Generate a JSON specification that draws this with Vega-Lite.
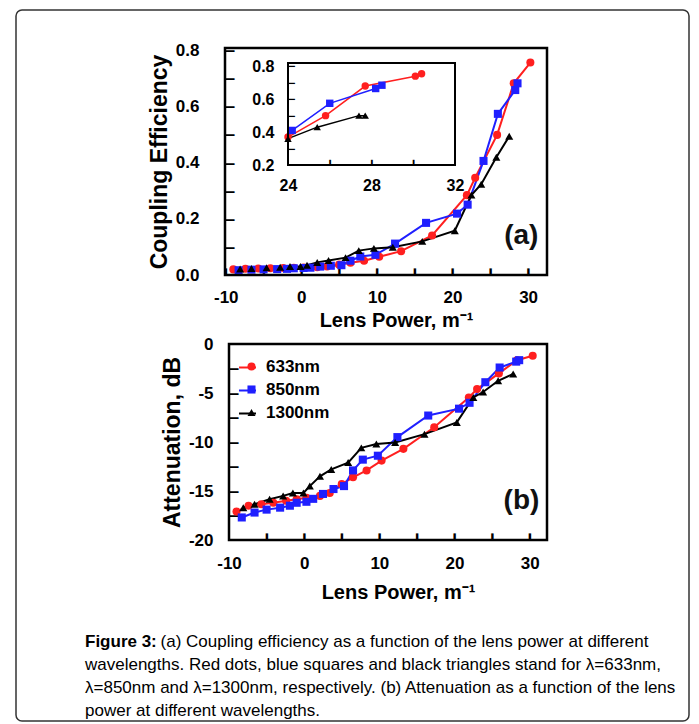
{
  "$schema": "https://vega.github.io/schema/vega-lite/v6.json",
  "width": 673,
  "height": 711,
  "autosize": "none",
  "padding": {"left": 16, "top": 10, "right": 10, "bottom": 3},
  "background": "white",
  "config": {
    "view": {"stroke": "#333333", "strokeWidth": 1.5, "cornerRadius": 6},
    "font": "Liberation Sans",
    "axis": {
      "labelFont": "Liberation Sans", "titleFont": "Liberation Sans",
      "labelColor": "#000", "titleColor": "#000",
      "labelFontWeight": "bold", "titleFontWeight": "bold",
      "grid": false, "domain": false, "ticks": false,
      "labelFlush": false, "labelOverlap": false
    },
    "legend": {"labelFont": "Liberation Sans"}
  },
  "title": {
    "text": "Figure 3:",
    "subtitle": [
      "\u200b\u00a0\u00a0\u00a0\u00a0\u00a0\u00a0\u00a0\u00a0\u00a0\u00a0\u00a0\u00a0\u00a0\u00a0\u00a0\u00a0(a) Coupling efficiency as a function of the lens power at different",
      "wavelengths. Red dots, blue squares and black triangles stand for λ=633nm,",
      "λ=850nm and λ=1300nm, respectively. (b) Attenuation as a function of the lens",
      "power at different wavelengths."
    ],
    "orient": "bottom", "anchor": "start", "frame": "group",
    "dx": 69, "offset": -87,
    "font": "Liberation Sans", "fontSize": 17, "fontWeight": "bold", "color": "#000",
    "subtitleFont": "Liberation Sans", "subtitleFontSize": 17, "subtitleFontWeight": "normal",
    "subtitleColor": "#000", "subtitleLineHeight": 23, "subtitlePadding": -17
  },
  "datasets": {
    "ce": [
      {"wl": "633nm", "lp": -9.0, "ce": 0.020}, {"wl": "633nm", "lp": -7.4, "ce": 0.022},
      {"wl": "633nm", "lp": -5.7, "ce": 0.023}, {"wl": "633nm", "lp": -4.1, "ce": 0.024},
      {"wl": "633nm", "lp": -2.4, "ce": 0.025}, {"wl": "633nm", "lp": -1.0, "ce": 0.026},
      {"wl": "633nm", "lp": 0.3, "ce": 0.027}, {"wl": "633nm", "lp": 2.1, "ce": 0.028},
      {"wl": "633nm", "lp": 3.4, "ce": 0.030}, {"wl": "633nm", "lp": 5.0, "ce": 0.037},
      {"wl": "633nm", "lp": 6.5, "ce": 0.044}, {"wl": "633nm", "lp": 8.3, "ce": 0.051},
      {"wl": "633nm", "lp": 10.3, "ce": 0.065}, {"wl": "633nm", "lp": 13.2, "ce": 0.085},
      {"wl": "633nm", "lp": 17.3, "ce": 0.141}, {"wl": "633nm", "lp": 21.9, "ce": 0.285},
      {"wl": "633nm", "lp": 23.0, "ce": 0.347}, {"wl": "633nm", "lp": 25.9, "ce": 0.50},
      {"wl": "633nm", "lp": 28.1, "ce": 0.684}, {"wl": "633nm", "lp": 30.3, "ce": 0.758},
      {"wl": "850nm", "lp": -8.3, "ce": 0.017}, {"wl": "850nm", "lp": -6.6, "ce": 0.019},
      {"wl": "850nm", "lp": -5.0, "ce": 0.020}, {"wl": "850nm", "lp": -3.2, "ce": 0.021},
      {"wl": "850nm", "lp": -1.9, "ce": 0.022}, {"wl": "850nm", "lp": -1.0, "ce": 0.024},
      {"wl": "850nm", "lp": 0.3, "ce": 0.025}, {"wl": "850nm", "lp": 1.2, "ce": 0.026},
      {"wl": "850nm", "lp": 2.5, "ce": 0.030}, {"wl": "850nm", "lp": 3.9, "ce": 0.033},
      {"wl": "850nm", "lp": 5.3, "ce": 0.035}, {"wl": "850nm", "lp": 6.5, "ce": 0.051},
      {"wl": "850nm", "lp": 7.8, "ce": 0.066}, {"wl": "850nm", "lp": 9.8, "ce": 0.072},
      {"wl": "850nm", "lp": 12.4, "ce": 0.112}, {"wl": "850nm", "lp": 16.5, "ce": 0.186},
      {"wl": "850nm", "lp": 20.6, "ce": 0.219}, {"wl": "850nm", "lp": 22.0, "ce": 0.251},
      {"wl": "850nm", "lp": 24.1, "ce": 0.407}, {"wl": "850nm", "lp": 26.0, "ce": 0.575},
      {"wl": "850nm", "lp": 28.3, "ce": 0.66}, {"wl": "850nm", "lp": 28.6, "ce": 0.684},
      {"wl": "1300nm", "lp": -8.1, "ce": 0.021}, {"wl": "1300nm", "lp": -6.6, "ce": 0.023},
      {"wl": "1300nm", "lp": -4.6, "ce": 0.026}, {"wl": "1300nm", "lp": -2.8, "ce": 0.028},
      {"wl": "1300nm", "lp": -1.5, "ce": 0.030}, {"wl": "1300nm", "lp": -0.1, "ce": 0.030},
      {"wl": "1300nm", "lp": 0.75, "ce": 0.035}, {"wl": "1300nm", "lp": 2.1, "ce": 0.045},
      {"wl": "1300nm", "lp": 3.6, "ce": 0.052}, {"wl": "1300nm", "lp": 5.85, "ce": 0.062},
      {"wl": "1300nm", "lp": 7.6, "ce": 0.087}, {"wl": "1300nm", "lp": 9.6, "ce": 0.095},
      {"wl": "1300nm", "lp": 12.1, "ce": 0.099}, {"wl": "1300nm", "lp": 16.0, "ce": 0.120},
      {"wl": "1300nm", "lp": 20.3, "ce": 0.158}, {"wl": "1300nm", "lp": 22.5, "ce": 0.285},
      {"wl": "1300nm", "lp": 23.8, "ce": 0.324}, {"wl": "1300nm", "lp": 25.8, "ce": 0.42},
      {"wl": "1300nm", "lp": 27.5, "ce": 0.495}
    ],
    "att": [
      {"wl": "633nm", "lp": -9.0, "att": -17.1}, {"wl": "633nm", "lp": -7.4, "att": -16.5},
      {"wl": "633nm", "lp": -5.7, "att": -16.35}, {"wl": "633nm", "lp": -4.1, "att": -16.2},
      {"wl": "633nm", "lp": -2.4, "att": -16.0}, {"wl": "633nm", "lp": -1.0, "att": -15.85},
      {"wl": "633nm", "lp": 0.3, "att": -15.7}, {"wl": "633nm", "lp": 2.1, "att": -15.5},
      {"wl": "633nm", "lp": 3.4, "att": -15.2}, {"wl": "633nm", "lp": 5.0, "att": -14.3},
      {"wl": "633nm", "lp": 6.5, "att": -13.6}, {"wl": "633nm", "lp": 8.3, "att": -12.9},
      {"wl": "633nm", "lp": 10.3, "att": -11.9}, {"wl": "633nm", "lp": 13.2, "att": -10.7},
      {"wl": "633nm", "lp": 17.3, "att": -8.5}, {"wl": "633nm", "lp": 21.9, "att": -5.45},
      {"wl": "633nm", "lp": 23.0, "att": -4.6}, {"wl": "633nm", "lp": 25.9, "att": -3.0},
      {"wl": "633nm", "lp": 28.3, "att": -1.65}, {"wl": "633nm", "lp": 30.4, "att": -1.2},
      {"wl": "850nm", "lp": -8.3, "att": -17.7}, {"wl": "850nm", "lp": -6.6, "att": -17.2},
      {"wl": "850nm", "lp": -5.0, "att": -16.9}, {"wl": "850nm", "lp": -3.2, "att": -16.7},
      {"wl": "850nm", "lp": -1.9, "att": -16.5}, {"wl": "850nm", "lp": -1.0, "att": -16.2},
      {"wl": "850nm", "lp": 0.3, "att": -16.1}, {"wl": "850nm", "lp": 1.2, "att": -15.8},
      {"wl": "850nm", "lp": 2.5, "att": -15.3}, {"wl": "850nm", "lp": 3.9, "att": -14.8},
      {"wl": "850nm", "lp": 5.3, "att": -14.5}, {"wl": "850nm", "lp": 6.5, "att": -12.9},
      {"wl": "850nm", "lp": 7.8, "att": -11.8}, {"wl": "850nm", "lp": 9.8, "att": -11.4},
      {"wl": "850nm", "lp": 12.4, "att": -9.5}, {"wl": "850nm", "lp": 16.5, "att": -7.3},
      {"wl": "850nm", "lp": 20.6, "att": -6.6}, {"wl": "850nm", "lp": 22.0, "att": -6.0},
      {"wl": "850nm", "lp": 24.1, "att": -3.9}, {"wl": "850nm", "lp": 26.0, "att": -2.4},
      {"wl": "850nm", "lp": 28.2, "att": -1.8}, {"wl": "850nm", "lp": 28.6, "att": -1.65},
      {"wl": "1300nm", "lp": -8.1, "att": -16.7}, {"wl": "1300nm", "lp": -6.6, "att": -16.35},
      {"wl": "1300nm", "lp": -4.6, "att": -15.85}, {"wl": "1300nm", "lp": -2.8, "att": -15.5},
      {"wl": "1300nm", "lp": -1.5, "att": -15.2}, {"wl": "1300nm", "lp": -0.1, "att": -15.2},
      {"wl": "1300nm", "lp": 0.75, "att": -14.5}, {"wl": "1300nm", "lp": 2.1, "att": -13.5},
      {"wl": "1300nm", "lp": 3.6, "att": -12.8}, {"wl": "1300nm", "lp": 5.85, "att": -12.1},
      {"wl": "1300nm", "lp": 7.6, "att": -10.6}, {"wl": "1300nm", "lp": 9.6, "att": -10.2},
      {"wl": "1300nm", "lp": 12.1, "att": -10.05}, {"wl": "1300nm", "lp": 16.0, "att": -9.2},
      {"wl": "1300nm", "lp": 20.3, "att": -8.0}, {"wl": "1300nm", "lp": 22.5, "att": -5.45},
      {"wl": "1300nm", "lp": 23.8, "att": -4.9}, {"wl": "1300nm", "lp": 25.8, "att": -3.75},
      {"wl": "1300nm", "lp": 27.8, "att": -3.05}
    ],
    "inset": [
      {"wl": "633nm", "lp": 24.0, "ce": 0.37}, {"wl": "633nm", "lp": 25.8, "ce": 0.50},
      {"wl": "633nm", "lp": 27.7, "ce": 0.68}, {"wl": "633nm", "lp": 30.1, "ce": 0.74},
      {"wl": "633nm", "lp": 30.4, "ce": 0.755},
      {"wl": "850nm", "lp": 24.2, "ce": 0.41}, {"wl": "850nm", "lp": 26.0, "ce": 0.575},
      {"wl": "850nm", "lp": 28.2, "ce": 0.665}, {"wl": "850nm", "lp": 28.5, "ce": 0.685},
      {"wl": "1300nm", "lp": 24.0, "ce": 0.36}, {"wl": "1300nm", "lp": 25.4, "ce": 0.43},
      {"wl": "1300nm", "lp": 27.4, "ce": 0.50}, {"wl": "1300nm", "lp": 27.7, "ce": 0.50}
    ],
    "one": [{"k": 1}]
  },
  "layer": [
    {
      "data": {"name": "ce"},
      "mark": {"type": "line", "strokeWidth": 2},
      "encoding": {
        "x": {"field": "lp", "type": "quantitative",
          "scale": {"domain": [-10.1, 32.5], "range": [209, 531], "nice": false, "zero": false},
          "axis": {"orient": "bottom", "offset": -446, "values": [-10, 0, 10, 20, 30],
            "labelExpr": "'' + datum.value", "labelPadding": 14, "labelFontSize": 17,
            "title": "Lens Power, m⁻¹", "titleFontSize": 20, "titlePadding": 5, "titleX": 380}},
        "y": {"field": "ce", "type": "quantitative",
          "scale": {"domain": [0, 0.81], "range": [265, 38], "nice": false, "zero": false},
          "axis": {"orient": "left", "offset": -209, "values": [0, 0.2, 0.4, 0.6, 0.8],
            "format": ".1f", "labelPadding": 26, "labelFontSize": 17,
            "title": "Coupling Efficiency", "titleFontSize": 23, "titlePadding": 4}},
        "color": {"field": "wl", "type": "nominal",
          "scale": {"domain": ["633nm", "850nm", "1300nm"], "range": ["#ff1f1f", "#1f1fff", "#000000"]}, "legend": null}
      }
    },
    {
      "data": {"name": "ce"},
      "mark": {"type": "point", "filled": true, "opacity": 1, "size": 65},
      "encoding": {
        "x": {"field": "lp", "type": "quantitative",
          "scale": {"domain": [-10.1, 32.5], "range": [209, 531], "nice": false, "zero": false},
          "axis": {"orient": "top", "offset": -265, "values": [-10, -5, 0, 5, 10, 15, 20, 25, 30],
            "labelExpr": "'▌'", "labelFont": "DejaVu Sans", "labelFontWeight": "normal", "labelFontSize": 6,
            "labelBaseline": "alphabetic", "labelAlign": "center", "labelPadding": 1.4, "labelOffset": 0.9,
            "title": null}},
        "y": {"field": "ce", "type": "quantitative",
          "scale": {"domain": [0, 0.81], "range": [265, 38], "nice": false, "zero": false},
          "axis": {"orient": "right", "offset": -464, "values": [0.1, 0.2, 0.3, 0.4, 0.5, 0.6, 0.7, 0.8],
            "labelExpr": "'▁'", "labelFont": "DejaVu Sans", "labelFontWeight": "normal", "labelFontSize": 11.6,
            "labelBaseline": "alphabetic", "labelAlign": "left", "labelPadding": 0, "labelOffset": -1.9,
            "title": null}},
        "color": {"field": "wl", "type": "nominal",
          "scale": {"domain": ["633nm", "850nm", "1300nm"], "range": ["#ff1f1f", "#1f1fff", "#000000"]}, "legend": null},
        "shape": {"field": "wl", "type": "nominal",
          "scale": {"domain": ["633nm", "850nm", "1300nm"], "range": ["circle", "square", "triangle-up"]}, "legend": null}
      }
    },
    {
      "data": {"name": "one"},
      "mark": {"type": "rect", "filled": false, "stroke": "#000", "strokeWidth": 2.5},
      "encoding": {
        "x": {"datum": -10.1, "type": "quantitative",
          "scale": {"domain": [-10.1, 32.5], "range": [209, 531], "nice": false, "zero": false}, "axis": null},
        "x2": {"datum": 32.5},
        "y": {"datum": 0, "type": "quantitative",
          "scale": {"domain": [0, 0.81], "range": [265, 38], "nice": false, "zero": false}, "axis": null},
        "y2": {"datum": 0.81}
      }
    },
    {
      "data": {"name": "one"},
      "mark": {"type": "text", "text": "(a)", "fontSize": 28, "fontWeight": "bold", "color": "#111", "align": "center", "baseline": "middle"},
      "encoding": {
        "x": {"datum": 29.1, "type": "quantitative",
          "scale": {"domain": [-10.1, 32.5], "range": [209, 531], "nice": false, "zero": false}, "axis": null},
        "y": {"datum": 0.14, "type": "quantitative",
          "scale": {"domain": [0, 0.81], "range": [265, 38], "nice": false, "zero": false}, "axis": null}
      }
    },
    {
      "data": {"name": "inset"},
      "mark": {"type": "line", "strokeWidth": 1.5},
      "encoding": {
        "x": {"field": "lp", "type": "quantitative",
          "scale": {"domain": [24, 32], "range": [272, 439], "nice": false, "zero": false},
          "axis": {"orient": "bottom", "offset": -556, "values": [24, 28, 32],
            "labelExpr": "'' + datum.value", "labelPadding": 12, "labelFontSize": 16, "title": null}},
        "y": {"field": "ce", "type": "quantitative",
          "scale": {"domain": [0.2, 0.82], "range": [155, 53], "nice": false, "zero": false},
          "axis": {"orient": "left", "offset": -272, "values": [0.2, 0.4, 0.6, 0.8],
            "format": ".1f", "labelPadding": 14, "labelFontSize": 16, "title": null}},
        "color": {"field": "wl", "type": "nominal",
          "scale": {"domain": ["633nm", "850nm", "1300nm"], "range": ["#ff1f1f", "#1f1fff", "#000000"]}, "legend": null}
      }
    },
    {
      "data": {"name": "inset"},
      "mark": {"type": "point", "filled": true, "opacity": 1, "size": 55},
      "encoding": {
        "x": {"field": "lp", "type": "quantitative",
          "scale": {"domain": [24, 32], "range": [272, 439], "nice": false, "zero": false},
          "axis": {"orient": "top", "offset": -155, "values": [26, 28, 30],
            "labelExpr": "'▌'", "labelFont": "DejaVu Sans", "labelFontWeight": "normal", "labelFontSize": 4.5,
            "labelBaseline": "alphabetic", "labelAlign": "center", "labelPadding": 1.1, "labelOffset": 0.7,
            "title": null}},
        "y": {"field": "ce", "type": "quantitative",
          "scale": {"domain": [0.2, 0.82], "range": [155, 53], "nice": false, "zero": false},
          "axis": {"orient": "right", "offset": -401, "values": [0.3, 0.4, 0.5, 0.6, 0.7, 0.8],
            "labelExpr": "'▁'", "labelFont": "DejaVu Sans", "labelFontWeight": "normal", "labelFontSize": 8.3,
            "labelBaseline": "alphabetic", "labelAlign": "left", "labelPadding": 0, "labelOffset": -1.4,
            "title": null}},
        "color": {"field": "wl", "type": "nominal",
          "scale": {"domain": ["633nm", "850nm", "1300nm"], "range": ["#ff1f1f", "#1f1fff", "#000000"]}, "legend": null},
        "shape": {"field": "wl", "type": "nominal",
          "scale": {"domain": ["633nm", "850nm", "1300nm"], "range": ["circle", "square", "triangle-up"]}, "legend": null}
      }
    },
    {
      "data": {"name": "one"},
      "mark": {"type": "rect", "filled": false, "stroke": "#000", "strokeWidth": 2},
      "encoding": {
        "x": {"datum": 24, "type": "quantitative",
          "scale": {"domain": [24, 32], "range": [272, 439], "nice": false, "zero": false}, "axis": null},
        "x2": {"datum": 32},
        "y": {"datum": 0.2, "type": "quantitative",
          "scale": {"domain": [0.2, 0.82], "range": [155, 53], "nice": false, "zero": false}, "axis": null},
        "y2": {"datum": 0.82}
      }
    },
    {
      "data": {"name": "att"},
      "mark": {"type": "line", "strokeWidth": 2},
      "encoding": {
        "x": {"field": "lp", "type": "quantitative",
          "scale": {"domain": [-10, 32.3], "range": [213, 531], "nice": false, "zero": false},
          "axis": {"orient": "bottom", "offset": -181, "values": [-10, 0, 10, 20, 30],
            "labelExpr": "'' + datum.value", "labelPadding": 15, "labelFontSize": 17,
            "title": "Lens Power, m⁻¹", "titleFontSize": 20, "titlePadding": 11, "titleX": 382}},
        "y": {"field": "att", "type": "quantitative",
          "scale": {"domain": [-20, 0], "range": [530, 334], "nice": false, "zero": false},
          "axis": {"orient": "left", "offset": -213, "values": [-20, -15, -10, -5, 0],
            "labelExpr": "'' + datum.value", "labelPadding": 16, "labelFontSize": 17,
            "title": "Attenuation, dB", "titleFontSize": 23, "titlePadding": 4}},
        "color": {"field": "wl", "type": "nominal",
          "scale": {"domain": ["633nm", "850nm", "1300nm"], "range": ["#ff1f1f", "#1f1fff", "#000000"]},
          "legend": {"orient": "none", "legendX": 222, "legendY": 348, "title": null,
            "symbolType": "stroke", "symbolSize": 289, "symbolStrokeWidth": 2,
            "labelOpacity": 0, "labelFontSize": 17, "labelFontWeight": "bold", "rowPadding": 5, "padding": 0}}
      }
    },
    {
      "data": {"name": "att"},
      "mark": {"type": "point", "filled": true, "opacity": 1, "size": 65},
      "encoding": {
        "x": {"field": "lp", "type": "quantitative",
          "scale": {"domain": [-10, 32.3], "range": [213, 531], "nice": false, "zero": false},
          "axis": {"orient": "top", "offset": -530, "values": [-5, 0, 5, 10, 15, 20, 25, 30],
            "labelExpr": "'▌'", "labelFont": "DejaVu Sans", "labelFontWeight": "normal", "labelFontSize": 6,
            "labelBaseline": "alphabetic", "labelAlign": "center", "labelPadding": 1.4, "labelOffset": 0.9,
            "title": null}},
        "y": {"field": "att", "type": "quantitative",
          "scale": {"domain": [-20, 0], "range": [530, 334], "nice": false, "zero": false},
          "axis": {"orient": "right", "offset": -460, "values": [-17.5, -15, -12.5, -10, -7.5, -5, -2.5],
            "labelExpr": "'▁'", "labelFont": "DejaVu Sans", "labelFontWeight": "normal", "labelFontSize": 11.6,
            "labelBaseline": "alphabetic", "labelAlign": "left", "labelPadding": 0, "labelOffset": -1.9,
            "title": null}},
        "color": {"field": "wl", "type": "nominal",
          "scale": {"domain": ["633nm", "850nm", "1300nm"], "range": ["#ff1f1f", "#1f1fff", "#000000"]},
          "legend": {"orient": "none", "legendX": 227, "legendY": 348, "title": null, "symbolSize": 65,
            "labelFontSize": 17, "labelFontWeight": "bold", "labelColor": "#000", "labelOffset": 6,
            "rowPadding": 5, "padding": 0}},
        "shape": {"field": "wl", "type": "nominal",
          "scale": {"domain": ["633nm", "850nm", "1300nm"], "range": ["circle", "square", "triangle-up"]},
          "legend": {"orient": "none", "legendX": 227, "legendY": 348, "title": null, "symbolSize": 65,
            "labelFontSize": 17, "labelFontWeight": "bold", "labelColor": "#000", "labelOffset": 6,
            "rowPadding": 5, "padding": 0}}
      }
    },
    {
      "data": {"name": "one"},
      "mark": {"type": "rect", "filled": false, "stroke": "#000", "strokeWidth": 2.5},
      "encoding": {
        "x": {"datum": -10, "type": "quantitative",
          "scale": {"domain": [-10, 32.3], "range": [213, 531], "nice": false, "zero": false}, "axis": null},
        "x2": {"datum": 32.3},
        "y": {"datum": -20, "type": "quantitative",
          "scale": {"domain": [-20, 0], "range": [530, 334], "nice": false, "zero": false}, "axis": null},
        "y2": {"datum": 0}
      }
    },
    {
      "data": {"name": "one"},
      "mark": {"type": "text", "text": "(b)", "fontSize": 28, "fontWeight": "bold", "color": "#111", "align": "center", "baseline": "middle"},
      "encoding": {
        "x": {"datum": 28.9, "type": "quantitative",
          "scale": {"domain": [-10, 32.3], "range": [213, 531], "nice": false, "zero": false}, "axis": null},
        "y": {"datum": -16.0, "type": "quantitative",
          "scale": {"domain": [-20, 0], "range": [530, 334], "nice": false, "zero": false}, "axis": null}
      }
    }
  ],
  "resolve": {
    "scale": {"x": "independent", "y": "independent", "color": "independent", "shape": "independent"},
    "axis": {"x": "independent", "y": "independent"},
    "legend": {"color": "independent", "shape": "independent"}
  }
}
